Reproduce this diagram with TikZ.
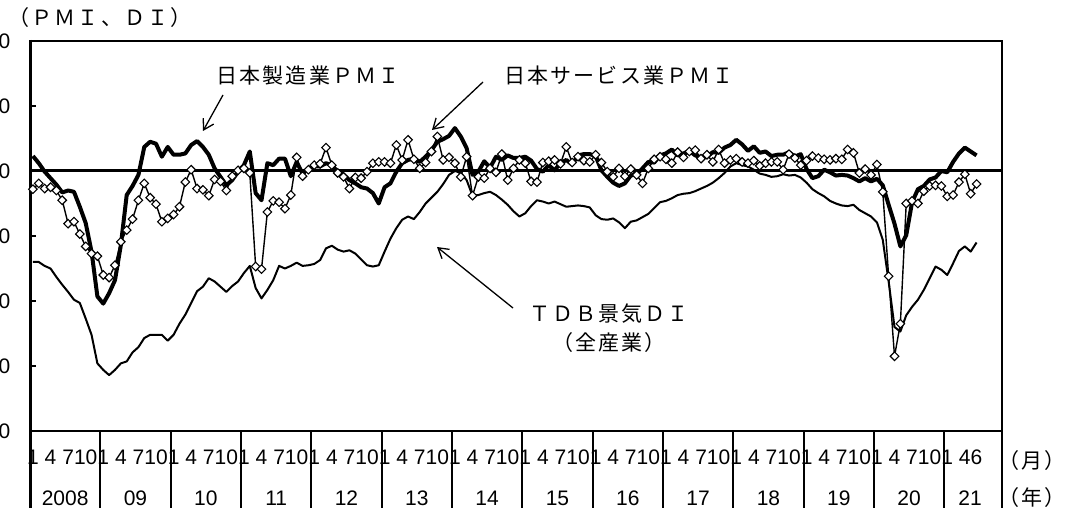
\documentclass[tikz,border=0pt]{standalone}
\usepackage{fontspec}
\setmainfont{Liberation Sans}
\newfontfamily\jp[LetterSpace=10]{Noto Sans CJK JP}
\usepackage{tikz}
\usetikzlibrary{shapes.geometric,arrows.meta}

\begin{document}
\begin{tikzpicture}[x=1pt,y=1pt]
% Styles (MODIFIABLES)
\tikzstyle{cadre}=[line width=2pt]
\tikzstyle{axe}=[line width=3pt]
\tikzstyle{seuil}=[line width=3pt]
\tikzstyle{manuf}=[line width=4pt,line join=round]
\tikzstyle{service}=[line width=1.4pt,line join=round]
\tikzstyle{tdb}=[line width=2pt,line join=round]
\tikzstyle{losange}=[diamond,draw,fill=white,line width=1.1pt,inner sep=0pt,minimum width=9pt,minimum height=9pt]
\tikzstyle{renvoi}=[-{Straight Barb[length=10pt,width=12pt]},line width=1.3pt]
\tikzstyle{etiquette}=[font=\jp\fontsize{21}{29}\selectfont,inner sep=0pt,align=center]
\tikzstyle{graduation}=[anchor=east,font=\fontsize{21}{24}\selectfont,inner sep=0pt]
\tikzstyle{mois}=[font=\fontsize{21}{24}\selectfont,inner sep=0pt]
\tikzstyle{annee}=[font=\fontsize{21}{24}\selectfont,inner sep=0pt]
% Dimensions (MODIFIABLES)
\def\Gauche{30}
\def\Droite{1002}
\def\Haut{471}
\def\Bas{81}
\def\Pied{4}
\def\OrigMois{32.93}
\def\PasMois{5.861}
\def\PasAn{70.33}
% Donnees mensuelles 2008/1 - 2021/6
\def\Manuf{52.3,51.2,49.9,48.9,47.9,46.7,47.0,46.8,44.5,42.0,37.6,30.7,
29.6,31.2,33.2,38.6,46.3,47.7,49.4,53.7,54.5,54.2,52.2,53.7,
52.5,52.5,52.7,54.0,54.6,53.7,52.5,50.4,49.1,47.8,48.6,49.9,
50.9,53.0,46.6,45.5,51.2,50.9,51.9,51.9,49.2,51.4,49.6,50.4,
50.7,50.7,51.2,50.9,49.9,49.4,48.6,48.1,47.5,47.3,46.6,45.0,
47.5,48.1,49.9,51.2,51.7,51.9,51.4,52.2,53.2,54.5,54.9,55.4,
56.6,55.3,53.5,49.4,49.9,51.5,50.5,52.2,51.7,52.4,52.0,52.0,
52.2,51.6,50.3,49.9,50.9,50.1,51.2,51.7,51.0,52.4,52.6,52.6,
52.3,50.1,49.1,48.2,47.7,48.1,49.3,49.5,50.4,51.4,51.3,52.4,
52.7,53.3,52.4,52.7,53.1,52.4,52.1,52.2,52.9,52.8,53.6,54.0,
54.8,54.1,53.1,53.8,52.8,53.0,52.3,52.5,52.5,52.9,52.2,52.6,
50.3,48.9,49.2,50.2,49.8,49.3,49.4,49.3,48.9,48.4,48.9,48.4,
48.8,47.8,44.8,41.9,38.4,40.1,45.2,47.2,47.7,48.7,49.0,50.0,
49.8,51.4,52.7,53.6,53.0,52.4}
\def\Service{47.2,48.1,47.3,47.5,47.0,45.5,41.9,42.2,40.3,38.4,37.3,36.9,
34.0,33.6,35.5,39.1,40.9,42.6,45.5,48.1,45.9,44.9,42.2,42.7,
43.3,44.5,48.3,50.2,47.3,47.1,46.2,48.7,48.4,47.0,49.2,50.1,
50.4,49.7,35.3,34.9,43.7,45.4,45.2,44.2,46.3,52.1,49.2,50.2,
50.9,51.1,53.6,50.9,49.7,49.1,47.3,49.0,48.9,49.9,51.2,51.4,
51.4,51.2,54.0,51.7,54.8,51.8,50.4,51.3,53.0,55.3,51.7,52.1,
51.2,49.1,52.2,46.2,49.1,48.9,50.4,49.8,52.6,48.6,50.4,51.7,
51.2,48.4,48.3,51.3,51.5,51.7,51.1,53.7,51.3,52.2,51.6,51.4,
52.5,51.3,49.9,49.1,50.4,49.2,50.3,49.4,48.1,50.4,51.8,52.2,
51.8,51.2,52.9,52.1,53.0,53.2,51.9,52.5,51.4,53.3,51.2,51.7,
51.9,51.4,51.2,51.6,50.8,51.2,51.4,51.4,50.2,52.6,52.0,50.9,
51.6,52.3,52.0,51.8,51.7,51.9,51.8,53.3,52.8,49.7,50.3,49.4,
51.0,46.8,33.8,21.5,26.5,45.0,45.4,45.0,46.9,47.7,47.8,47.7,
46.1,46.3,48.3,49.5,46.5,48.0}
\def\TDB{36.0,36.0,35.4,35.0,33.7,32.5,31.4,30.2,29.7,27.3,24.8,20.4,
19.4,18.6,19.4,20.4,20.7,22.1,22.9,24.3,24.8,24.8,24.8,23.9,
24.8,26.5,27.9,29.7,31.5,32.2,33.5,33.0,32.2,31.4,32.3,33.0,
34.3,35.4,32.0,30.4,31.7,33.2,35.4,35.0,35.4,35.9,35.4,35.5,
35.7,36.3,38.1,38.5,37.9,37.6,37.8,37.3,36.4,35.5,35.3,35.5,
37.6,39.6,41.2,42.5,43.0,42.6,43.7,45.0,45.9,46.8,48.0,49.4,
50.0,49.7,48.6,46.2,46.3,46.6,46.8,46.3,45.6,44.8,43.8,43.0,
43.5,44.6,45.5,45.3,45.0,45.3,44.9,44.5,44.6,44.7,44.6,44.4,
43.2,42.6,42.5,42.7,42.1,41.2,42.2,42.4,42.9,43.4,44.3,45.2,
45.4,45.8,46.3,46.5,46.6,46.9,47.3,47.7,48.2,48.9,49.7,50.7,
51.2,50.9,50.7,50.2,49.6,49.4,49.1,49.2,49.5,49.3,49.4,49.0,
48.2,47.2,46.6,46.1,45.4,45.0,44.7,44.6,44.8,44.0,43.5,43.0,
42.1,39.4,33.0,26.0,25.3,27.8,29.1,30.2,31.7,33.5,35.3,34.8,
34.0,35.8,37.7,38.4,37.6,39.0}
\useasboundingbox (0,0) rectangle (1079,512);
% Graduations et libelles des axes
\foreach \v in {10,20,...,70} \node[graduation] (G\v) at (10.5,{16+6.5*\v}) {\v};
\foreach \k in {0,...,12} {
  \foreach \m/\t in {0/1,3/4,6/7,9/10}
    \node[mois] (M\k-\m) at ({\OrigMois+\PasMois*(12*\k+\m)},55) {\t};
}
\node[mois] (M13-0) at ({\OrigMois+\PasMois*156},55) {1};
\node[mois] (M13-3) at ({\OrigMois+\PasMois*159},55) {4};
\node[mois] (M13-5) at ({\OrigMois+\PasMois*161},55) {6};
\foreach \a [count=\k from 0] in {2008,09,10,11,12,13,14,15,16,17,18,19,20}
  \node[annee] (A\k) at ({\Gauche+\PasAn*(\k+0.5)},14) {\a};
\node[annee] (A13) at (970,14) {21};
\node[etiquette] (Mois) at (1032,51) {（月）};
\node[etiquette] (Annee) at (1032,14) {（年）};
\node[etiquette] (Titre) at (100,494) {（ＰＭＩ、ＤＩ）};
% Cadre
\draw[cadre] (\Gauche,\Haut) -- (\Droite,\Haut) -- (\Droite,\Pied);
\draw[cadre] (\Gauche,\Bas) -- (\Droite,\Bas);
\foreach \k in {1,...,13} \draw[cadre] ({\Gauche+\PasAn*\k},\Bas) -- ({\Gauche+\PasAn*\k},\Pied);
\foreach \v in {20,30,40,60} \draw[cadre] (\Gauche,{16+6.5*\v}) -- ++(6,0);
\draw[axe] (\Gauche,\Haut+1) -- (\Gauche,\Pied);
\draw[seuil] (\Gauche,341) -- (\Droite,341);
% Courbes
\begin{scope}[shift={(\OrigMois pt,16pt)},x=\PasMois pt,y=6.5pt]
\foreach \v [count=\i from 0] in \TDB {\coordinate (T\i) at (\i,\v);}
\foreach \v [count=\i from 0] in \Manuf {\coordinate (F\i) at (\i,\v);}
\foreach \v [count=\i from 0] in \Service {\coordinate (C\i) at (\i,\v);}
\draw[tdb] (T0) \foreach \i in {1,...,161} {-- (T\i)};
\draw[manuf] (F0) \foreach \i in {1,...,161} {-- (F\i)};
\draw[service] (C0) \foreach \i in {1,...,161} {-- (C\i)};
\foreach \i in {0,...,161} \node[losange] (S\i) at (C\i) {};
\end{scope}
% Etiquettes et renvois
\node[etiquette] (Manuf) at (308,436) {日本製造業ＰＭＩ};
\node[etiquette] (Serv) at (619,436) {日本サービス業ＰＭＩ};
\node[etiquette] (Tdb) at (609,184) {ＴＤＢ景気ＤＩ\\（全産業）};
\coordinate (dManuf) at (223,417);
\coordinate (fManuf) at (203,381);
\coordinate (dServ) at (483,430);
\coordinate (fServ) at (432,382);
\coordinate (dTdb) at (513,204);
\coordinate (fTdb) at (437,265);
\draw[renvoi] (dManuf) -- (fManuf);
\draw[renvoi] (dServ) -- (fServ);
\draw[renvoi] (dTdb) -- (fTdb);
\end{tikzpicture}
\end{document}
